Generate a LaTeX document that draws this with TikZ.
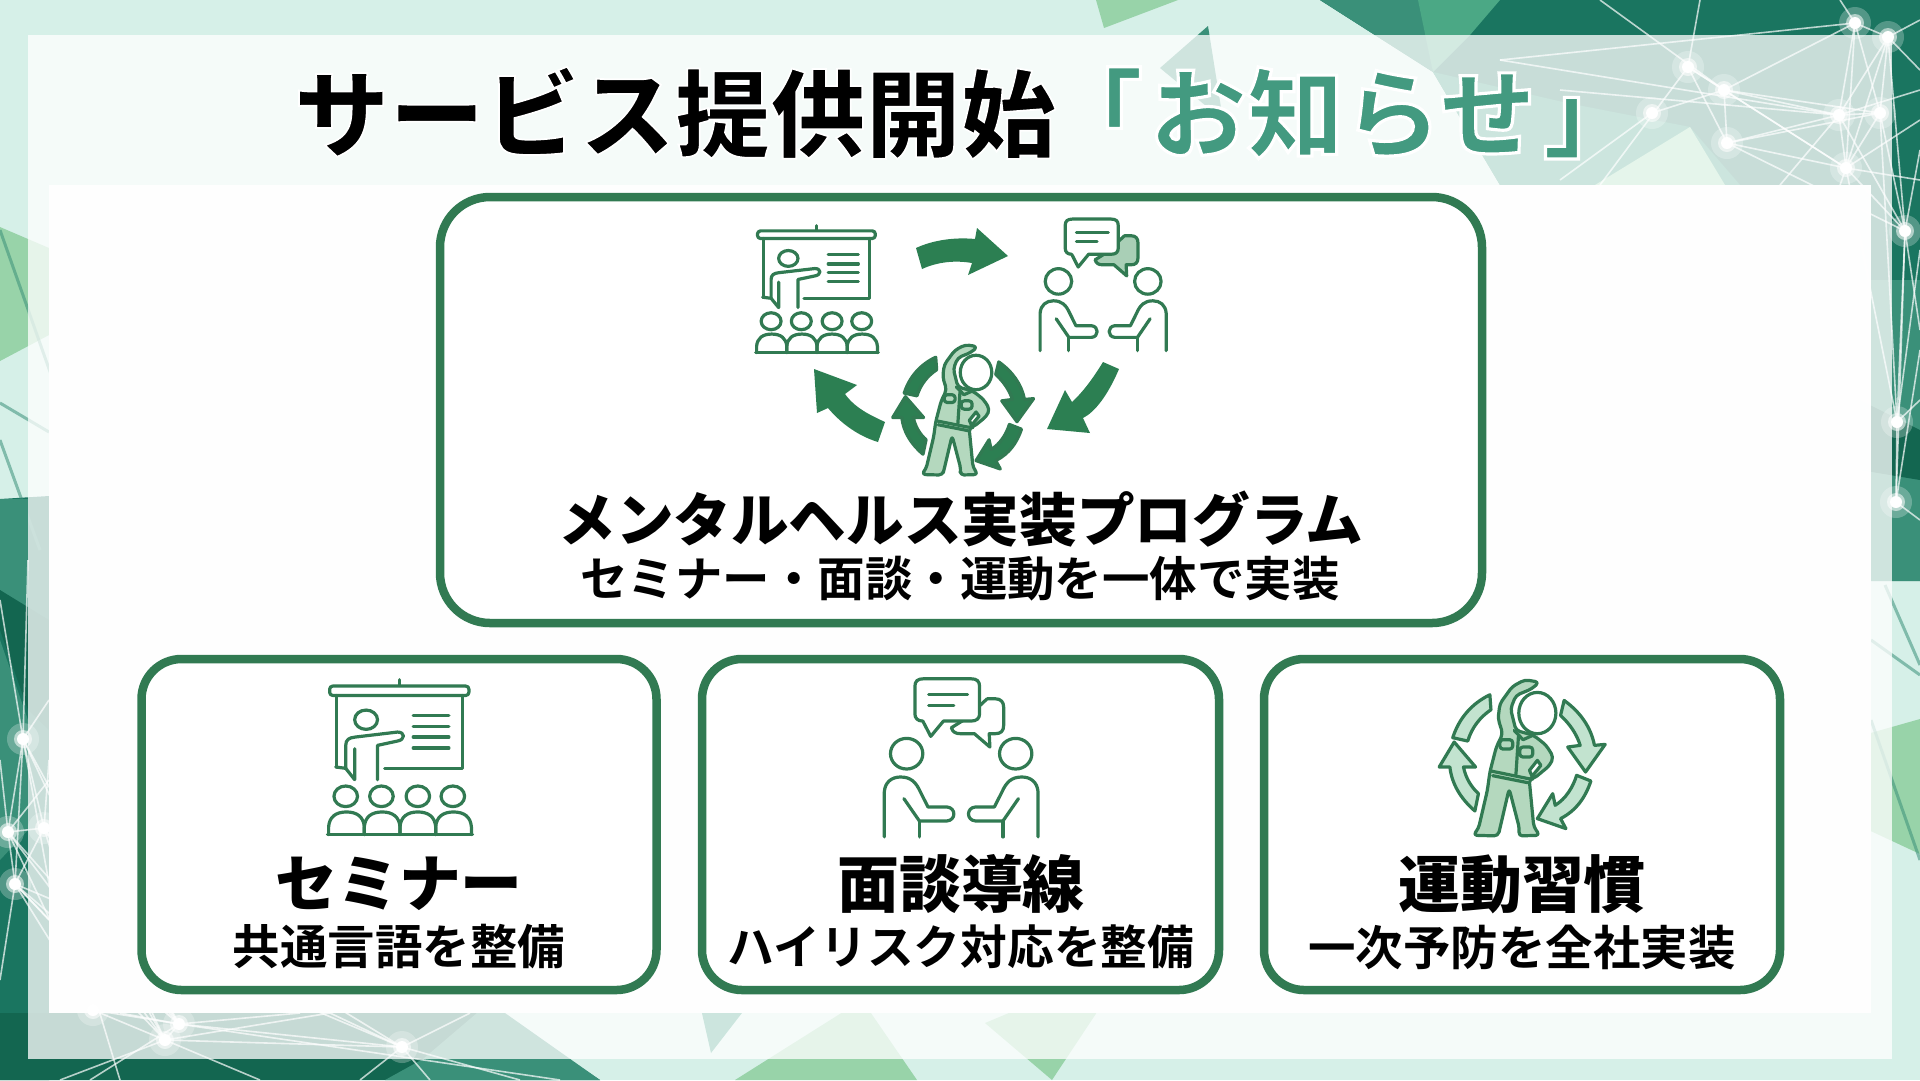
\documentclass[tikz,border=0pt]{standalone}
\usepackage{fontspec}
\newfontfamily\jpbold{Noto Sans CJK JP Bold}
\newfontfamily\jpblack{Noto Sans CJK JP Black}
\definecolor{bgbase}{HTML}{D6F0E8}
\definecolor{bgdark}{HTML}{1A7560}
\definecolor{bgdeep}{HTML}{136650}
\definecolor{bgteal}{HTML}{3A9079}
\definecolor{bgmid}{HTML}{2A9676}
\definecolor{bggreen}{HTML}{98D3A9}
\definecolor{bgpale}{HTML}{94D8AC}
\definecolor{cardgreen}{HTML}{317A52}
\definecolor{arrowgreen}{HTML}{2C7F52}
\definecolor{suitgreen}{HTML}{B4D8BE}
\definecolor{paleleaf}{HTML}{C2E3CF}
\definecolor{bubblegreen}{HTML}{A9CFB6}
\definecolor{titleteal}{HTML}{439A80}
\newcommand{\haloed}[2]{\special{pdf:code 2 Tr 1 1 1 RG #1 w}#2\special{pdf:code 0 Tr}}
\tikzset{
  card/.style={draw=cardgreen,line width=0.85mm,fill=white,rounded corners=5mm},
  smallcard/.style={card,rounded corners=4mm,minimum width=51.5mm,minimum height=33.1mm},
  headtext/.style={font=\jpblack\fontsize{17.6}{20}\selectfont,text=black,inner sep=0pt},
  subtext/.style={font=\jpbold\fontsize{13.5}{16}\selectfont,text=black,inner sep=0pt},
  iconline/.style={draw=cardgreen,line width=0.32mm,line cap=round,line join=round},
  bigarrow/.style={fill=arrowgreen},
  starline/.style={white,opacity=0.7,line width=0.16mm},
  darkline/.style={bgteal,opacity=0.55,line width=0.3mm},
  pics/seminar/.style={code={
    \begin{scope}[shift={(-755,-320)}]
    \draw[iconline] (753,88)--(753,105);
    \draw[iconline,rounded corners=0.3mm] (558,107) rectangle (948,135);
    \draw[iconline] (578,135)--(578,350);
    \draw[iconline] (930,135)--(930,355)--(712,355);
    \draw[iconline] (660,208) circle [x radius=32,y radius=29];
    \draw[iconline] (575,350)--(603,354)--(628,388)--(628,295);
    \draw[iconline] (603,354)--(603,285) .. controls (603,268) and (612,262) .. (630,260)--(748,245) .. controls (770,245) and (770,268) .. (748,272)--(692,285)--(692,388);
    \foreach \ly in {195,228,260,293} \draw[iconline] (792,\ly)--(892,\ly);
    \foreach \px in {603,703,805,903} \draw[iconline] (\px,438) circle [x radius=33,y radius=31];
    \draw[iconline] (552,553)--(958,553);
    \foreach \px in {555,655,755,855} \draw[iconline] (\px,553)--(\px,530) .. controls (\px+2,500) and (\px+20,485) .. (\px+50,485) .. controls (\px+80,485) and (\px+98,500) .. (\px+100,530)--(\px+100,553);
    \end{scope}
  }},
  pics/talk/.style={code={
    \begin{scope}[shift={(-786,-323)}]
    \draw[iconline,pic actions] (862,145)--(885,145) .. controls (902,145) and (910,155) .. (910,170)--(910,225) .. controls (910,242) and (902,250) .. (885,250)--(868,250)--(870,290)--(825,250)--(785,250) .. controls (770,250) and (762,245) .. (758,232)--(800,205)--(862,145);
    \draw[iconline,fill=white] (675,212)--(698,258)--(735,212)--(815,212) .. controls (832,212) and (840,204) .. (840,190)--(840,108) .. controls (840,92) and (832,85) .. (815,85)--(677,85) .. controls (660,85) and (652,92) .. (652,108)--(652,190) .. controls (652,204) and (660,212) .. (675,212);
    \draw[iconline] (692,132)--(805,132);
    \draw[iconline] (692,165)--(765,165);
    \foreach \fx/\fs in {0/1,1573/-1}{
      \begin{scope}[shift={(\fx,0)},xscale=\fs]
      \draw[iconline] (628,310) circle [x radius=47,y radius=46];
      \draw[iconline] (563,560)--(563,425) .. controls (565,395) and (585,380) .. (610,380) .. controls (640,380) and (655,395) .. (668,425)--(690,470)--(745,470) .. controls (772,472) and (772,510) .. (745,512)--(665,512)--(620,445);
      \draw[iconline] (665,512)--(665,560);
      \end{scope}
    }
    \end{scope}
  }},
  pics/stretcher/.style={code={
    \begin{scope}[shift={(-762,-323)}]
    \draw[iconline,pic actions] (672,133) .. controls (620,160) and (585,205) .. (568,262)--(610,272) .. controls (622,230) and (645,200) .. (675,178)--cycle;
    \draw[iconline,pic actions] (880,150) .. controls (925,185) and (955,230) .. (965,285)--(995,282)--(940,365)--(890,290)--(925,285) .. controls (915,250) and (895,220) .. (870,195)--cycle;
    \draw[iconline,pic actions] (955,392) .. controls (940,440) and (915,480) .. (870,505)--(885,535)--(805,505)--(848,430)--(855,465) .. controls (885,445) and (905,410) .. (915,375)--cycle;
    \draw[iconline,pic actions] (572,275)--(632,350)--(598,350) .. controls (605,385) and (620,410) .. (640,430)--(630,482) .. controls (590,445) and (565,400) .. (560,350)--(530,350)--cycle;
    \draw[iconline,fill=suitgreen,rounded corners=0.4mm] (810,95)--(770,88)--(735,108)--(700,160)--(695,205)--(708,250)--(690,290)--(672,365)--(665,420)--(640,535)--(625,555)--(695,557)--(700,535)--(726,415)--(755,535)--(752,557)--(812,555)--(795,530)--(782,385)--(795,385)--(840,345)--(850,320)--(830,285)--(795,255)--(745,240)--(730,175)--(745,135)--(790,115)--cycle;
    \draw[iconline,fill=white] (805,188) circle [x radius=52,y radius=62];
    \draw[iconline,fill=white] (790,378)--(815,345)--(805,330)--(783,360)--cycle;
    \draw[iconline] (675,362)--(780,385);
    \draw[iconline] (680,376)--(778,397);
    \draw[iconline] (752,258)--(745,372);
    \draw[iconline] (740,240)--(765,268)--(792,255);
    \draw[iconline,rounded corners=0.3mm] (700,268) rectangle (736,296);
    \draw[iconline,rounded corners=0.3mm] (756,290) rectangle (792,320);
    \end{scope}
  }},
}
\begin{document}
\begin{tikzpicture}[x=0.1mm,y=-0.1mm]
\useasboundingbox (0,0) rectangle (1920,1080);
\clip (0,0) rectangle (1920,1080);
% backdrop
\fill[bgbase] (0,0) rectangle (1920,1080);
\fill[bggreen] (0,227)--(49,248)--(49,335)--(0,361)--cycle;
\fill[bggreen] (1096,0)--(1178,0)--(1104,28)--cycle;
\fill[bggreen] (1860,736)--(1920,719)--(1920,854)--(1860,826)--cycle;
\fill[bggreen] (735,1080)--(862,1000)--(917,1080)--cycle;
\fill[bggreen] (985,1023)--(1040,1000)--(1105,1000)--(1052,1080)--cycle;
\fill[bgmid] (699,1000)--(752,1000)--(711,1053)--cycle;
\fill[bgteal] (1208,26)--(1160,68)--(1223,120)--cycle;
\fill[bgdark] (1320,0)--(1920,0)--(1920,581)--(1860,581)--(1860,185)--(1500,185)--(1433,72)--cycle;
\fill[bgteal] (1320,0)--(1420,0)--(1433,72)--cycle;
\fill[bgmid!70!bggreen] (1418,0)--(1500,0)--(1470,35)--(1433,72)--cycle;
\fill[bgmid] (1433,72)--(1567,103)--(1690,127)--(1740,185)--(1500,185)--cycle;
\fill[bgpale] (1595,185)--(1690,127)--(1725,185)--cycle;
\fill[bgteal] (1860,280)--(1920,280)--(1920,581)--(1860,581)--cycle;
\fill[bgdeep] (1860,400)--(1920,430)--(1920,480)--(1860,470)--cycle;
\fill[bgdark] (0,499)--(49,496)--(49,1080)--(0,1080)--cycle;
\fill[bgteal] (0,499)--(28,499)--(28,612)--(0,590)--cycle;
\fill[bgdeep] (0,590)--(49,620)--(49,730)--(28,710)--(0,630)--cycle;
\fill[bgteal] (0,640)--(28,720)--(28,830)--(0,860)--cycle;
\fill[bgdeep] (0,1013)--(500,1013)--(600,1080)--(0,1080)--cycle;
\fill[bgteal] (423,1059)--(477,1013)--(505,1013)--(600,1080)--(385,1080)--cycle;
\draw[darkline] (0,230)--(60,400);
\draw[darkline] (0,403)--(49,432);
\draw[darkline] (0,440)--(40,550);
\draw[darkline] (1871,640)--(1920,675);
\draw[darkline] (1885,585)--(1920,665);
\draw[darkline] (1871,720)--(1920,860);
% star web
\foreach \sname/\sx/\sy in {sa/1855/23,sb/1888/37,sc/1688/67,sd/1724/90,se/1652/113,sf/1727/143,sg/1839/115,sh/1880/113,si/1846/168,sj/1905/231,sk/1897/422,sl/1896/502,ta/23/739,tb/8/832,tc/15/884,td/44/828,te/179/1024,tf/165/1040,tg/402/1047,th/93/1010}
  \coordinate (\sname) at (\sx,\sy);
\foreach \a/\b in {sa/sb,sa/sg,sa/sd,sa/sh,sa/si,sb/sg,sb/sh,sb/sj,sb/si,sc/sd,sc/sf,sc/si,sd/se,sd/sf,sd/sg,sd/si,sd/sh,sf/sg,sf/sh,sf/si,sf/sj,sg/si,sg/sh,sg/sj,sh/sj,si/sj,si/sh,sj/sk,sk/sl,sj/sl,sh/sk,si/sk,te/tf,te/tg,tf/tg,ta/tb,ta/td,tb/tc,tb/td,tc/td,ta/tc,td/te,td/tf,td/tg,tc/tf,tc/te,tc/tg,ta/te,ta/tf,th/tf,th/tc,th/te,tb/th,tb/te,tb/tf}
  \draw[starline] (\a)--(\b);
\foreach \a/\tx/\ty in {sa/1500/60,sa/1840/0,sb/1920/20,sb/1920/70,sd/1600/0,sc/1600/185,sc/1700/0,se/1560/180,sg/1560/90,sg/1500/60,sg/1780/185,sg/1920/90,si/1800/300,si/1920/180,si/1920/120,sj/1920/330,sj/1920/150,sk/1920/250,sk/1920/400,sl/1920/350,sl/1920/520,ta/0/600,ta/28/560,ta/70/1000,ta/49/700,tb/0/760,tb/49/780,tc/0/980,tc/49/920,td/120/1080,td/49/760,te/90/1080,te/300/1013,te/560/1080,te/120/1013,tf/260/1080,tf/330/1013,tf/60/1080,tg/330/1013,tg/360/1080,tg/470/1013,tg/430/1080,tg/520/1080}
  \draw[starline] (\a)--(\tx,\ty);
\foreach \a in {sa,sb,sc,sd,se,sf,sg,sh,si,sj,sk,sl,ta,tb,tc,td,te,tf,tg,th}{
  \fill[white,opacity=0.25] (\a) circle [radius=16];
  \fill[white,opacity=0.55] (\a) circle [radius=9];
  \fill[white] (\a) circle [radius=6];
}
% panels
\fill[white,opacity=0.76] (28,35) rectangle (1892,1059);
\fill[white,opacity=0.98] (49,185) rectangle (1871,1013);
% title
\node[inner sep=0pt,text=black,font=\jpblack\fontsize{27.1}{30}\selectfont] (titlea) at (675,113) {\haloed{0.5}{サービス提供開始}};
\node[inner sep=0pt,text=titleteal,font=\jpblack\fontsize{27.6}{30}\selectfont] (titleb) at (1343,113) {\haloed{0.9}{「\hspace{0.7mm}お知らせ\hspace{0.7mm}」}};
% cards
\node[card,minimum width=104.2mm,minimum height=42.6mm] (maincard) at (961,410) {};
\node[smallcard] (seminarcard) at (399,824.5) {};
\node[smallcard,minimum width=51.7mm] (talkcard) at (960.5,824.5) {};
\node[smallcard,minimum width=51.6mm] (movecard) at (1522,824.5) {};
% top icons
\pic[xscale=0.302,yscale=0.273] at (817,289) {seminar};
\pic[xscale=0.282,yscale=0.277,fill=bubblegreen] at (1103,285) {talk};
\pic[xscale=0.303,yscale=0.278,fill=arrowgreen] at (963,410) {stretcher};
\fill[bigarrow] (916,248) .. controls (933,240) and (955,237) .. (975,239)--(977,228)--(1008,256)--(968,275)--(972,263) .. controls (955,260) and (937,262) .. (922,269)--cycle;
\fill[bigarrow] (1103,362)--(1119,369) .. controls (1108,395) and (1095,412) .. (1083,418)--(1090,433)--(1047,429)--(1065,390)--(1072,402) .. controls (1085,390) and (1095,375) .. (1103,362)--cycle;
\fill[bigarrow] (885,422)--(878,442) .. controls (855,435) and (838,420) .. (828,408)--(817,413)--(814,369)--(857,385)--(845,394) .. controls (855,408) and (870,415) .. (885,422)--cycle;
% bottom icons
\pic[xscale=0.357,yscale=0.333] at (400,757) {seminar};
\pic[xscale=0.344,yscale=0.333] at (961,758) {talk};
\pic[xscale=0.357,yscale=0.333,fill=paleleaf] at (1522,758) {stretcher};
% labels
\node[headtext,font=\jpblack\fontsize{16.4}{20}\selectfont] (mainhead) at (961,519) {メンタルヘルス実装プログラム};
\node[subtext] (mainsub) at (960,579) {セミナー・面談・運動を一体で実装};
\node[headtext] (seminarhead) at (399,884) {セミナー};
\node[subtext] (seminarsub) at (399,947) {共通言語を整備};
\node[headtext] (talkhead) at (961,884) {面談導線};
\node[subtext,font=\jpbold\fontsize{13.3}{16}\selectfont] (talksub) at (961,947) {ハイリスク対応を整備};
\node[headtext] (movehead) at (1522,884) {運動習慣};
\node[subtext] (movesub) at (1522,947) {一次予防を全社実装};
\end{tikzpicture}
\end{document}
